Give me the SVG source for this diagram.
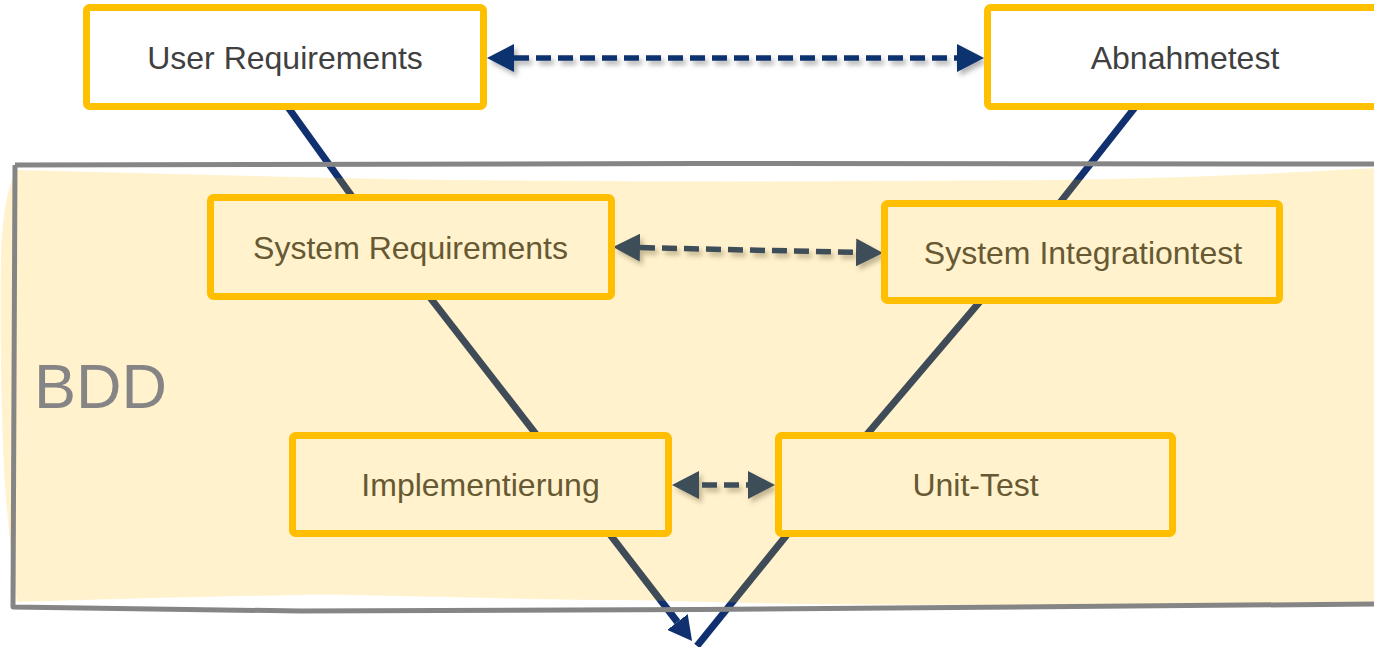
<svg xmlns="http://www.w3.org/2000/svg" width="1374" height="647" viewBox="0 0 1374 647">
  <style>
    .box { fill: #ffffff; stroke: #FFC000; stroke-width: 7; }
    .lbl { font-family: "Liberation Sans", Arial, sans-serif; font-size: 32px; fill: #404040; text-anchor: middle; }
    .vline { stroke: #10306F; stroke-width: 7; fill: none; stroke-linecap: butt; }
    .dash { stroke: #10306F; stroke-width: 5.5; fill: none; stroke-dasharray: 15 7; }
  </style>
  <defs>
    <marker id="head" viewBox="0 -14 27 28" refX="0" refY="0" markerWidth="27" markerHeight="28" markerUnits="userSpaceOnUse" orient="auto-start-reverse">
      <path d="M0,-14 L27,0 L0,14 Z" fill="#10306F"/>
    </marker>
    <marker id="vhead" viewBox="0 -13 24 26" refX="0" refY="0" markerWidth="24" markerHeight="26" markerUnits="userSpaceOnUse" orient="auto">
      <path d="M0,-13 L24,0 L0,13 Z" fill="#10306F"/>
    </marker>
    <filter id="shadow" x="-10%" y="-100%" width="120%" height="300%">
      <feDropShadow dx="3" dy="4" stdDeviation="2.5" flood-color="#000000" flood-opacity="0.3"/>
    </filter>
  </defs>

  <rect x="0" y="0" width="1374" height="647" fill="#ffffff"/>

  <g id="connectors">
    <!-- V left leg -->
    <line class="vline" x1="285.3" y1="103.5" x2="355.7" y2="201.5"/>
    <line class="vline" x1="427" y1="293.7" x2="540" y2="439.3"/>
    <line class="vline" x1="607" y1="530.6" x2="677.4" y2="622" marker-end="url(#vhead)"/>
    <!-- V right leg -->
    <line class="vline" x1="1138" y1="103.7" x2="1057" y2="206.3"/>
    <line class="vline" x1="983" y1="298" x2="863" y2="439"/>
    <line class="vline" x1="790" y1="531" x2="697" y2="646"/>
    <!-- dashed bidirectional arrows -->
    <g filter="url(#shadow)">
      <line class="dash" x1="514" y1="58" x2="957" y2="58" marker-start="url(#head)" marker-end="url(#head)"/>
      <line class="dash" x1="640" y1="247.6" x2="856" y2="252.4" marker-start="url(#head)" marker-end="url(#head)"/>
      <line class="dash" x1="699" y1="485" x2="748" y2="485" marker-start="url(#head)" marker-end="url(#head)" stroke-dasharray="14 7" stroke-dashoffset="-3"/>
    </g>
  </g>

  <g id="user-requirements">
    <rect class="box" x="86.5" y="7.5" width="397" height="99" rx="3"/>
    <text class="lbl" x="285" y="68.5">User Requirements</text>
  </g>
  <g id="abnahmetest">
    <rect class="box" x="987.5" y="7.5" width="400" height="99" rx="3"/>
    <text class="lbl" x="1185" y="68.5">Abnahmetest</text>
  </g>
  <g id="system-requirements">
    <rect class="box" x="210.5" y="197.5" width="401" height="99" rx="3"/>
    <text class="lbl" x="410.5" y="258.5">System Requirements</text>
  </g>
  <g id="system-integrationtest">
    <rect class="box" x="884.5" y="203.5" width="395" height="97" rx="3"/>
    <text class="lbl" x="1083" y="263.5">System Integrationtest</text>
  </g>
  <g id="implementierung">
    <rect class="box" x="292.5" y="435.5" width="376" height="98" rx="3"/>
    <text class="lbl" x="480.5" y="496">Implementierung</text>
  </g>
  <g id="unit-test">
    <rect class="box" x="778.5" y="435.5" width="394" height="98" rx="3"/>
    <text class="lbl" x="975.5" y="496">Unit-Test</text>
  </g>

  <g id="bdd">
    <path d="M17,170 C150,173 300,178 450,180 C650,182 850,182 1050,180 C1200,178 1300,172 1380,168 L1380,604 C1200,605 950,606 800,604 C700,602 650,600 600,600 C450,598 350,594 300,595 C180,597 80,600 17,602 C13,570 8,530 4,470 C1,400 0,320 1,260 C2,215 7,188 17,170 Z" fill="#FFC000" fill-opacity="0.2"/>
    <path d="M15,165 L700,163.5 L1380,164 M15,165 L13,607 L300,611 L700,609.5 L1380,604" fill="none" stroke="#858585" stroke-width="5" stroke-linejoin="round"/>
    <text x="34" y="408" font-family="'Liberation Sans', Arial, sans-serif" font-size="63" fill="#858585">BDD</text>
  </g>
</svg>
